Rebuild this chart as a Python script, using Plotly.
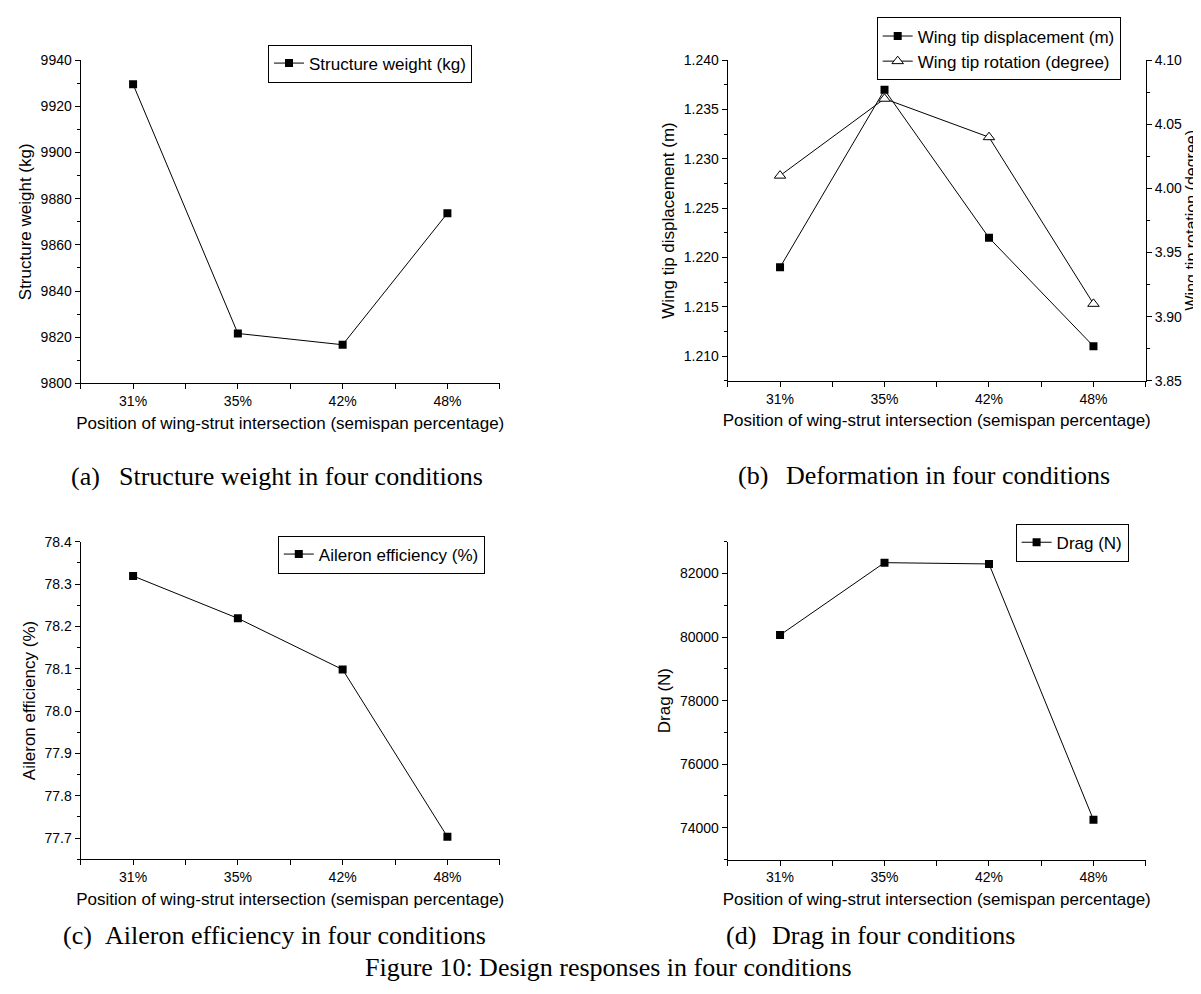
import plotly.graph_objects as go

# ---------------- data ----------------
categories = ["31%", "35%", "42%", "48%"]
structure_weight = [9929.6, 9821.6, 9816.7, 9873.7]          # kg
tip_displacement = [1.219, 1.237, 1.222, 1.211]              # m
tip_rotation = [4.01, 4.07, 4.04, 3.91]                      # degree
aileron_eff = [78.319, 78.219, 78.098, 77.703]               # %
drag = [80062, 82340, 82300, 74248]                          # N

x_title = "Position of wing-strut intersection (semispan percentage)"
captions = ["(a)", "(b)", "(c)", "(d)"]
caption_texts = ["Structure weight in four conditions",
                 "Deformation in four conditions",
                 "Aileron efficiency in four conditions",
                 "Drag in four conditions"]
fig_title = "Figure 10: Design responses in four conditions"

# ---------------- layout helpers ----------------
W, H = 1201, 994
pos = list(range(1, len(categories) + 1))
xtickvals = [0.5 + 0.5 * i for i in range(2 * len(categories) + 1)]
xticktext = [categories[int(v) - 1] if float(v).is_integer() else "" for v in xtickvals]

SANS = "Liberation Sans, Arial, sans-serif"
SERIF = "Liberation Serif, Times New Roman, serif"


def px_x(a, b):
    return [a / W, b / W]


def px_y(top, bottom):
    return [1 - bottom / H, 1 - top / H]


axis_common = dict(showline=True, linecolor="black", linewidth=1.3, ticks="outside",
                   ticklen=5, tickwidth=1.3, tickcolor="black", showgrid=False,
                   zeroline=False, mirror=False,
                   tickfont=dict(family=SANS, size=14, color="black"),
                   title_font=dict(family=SANS, size=17, color="black"))


def xaxis(domain, anchor):
    d = dict(axis_common)
    d.update(domain=domain, anchor=anchor, range=[0.5, 4.5], tickmode="array",
             tickvals=xtickvals, ticktext=xticktext,
             title=dict(text=x_title, standoff=8))
    return d


def yaxis(domain, anchor, rng, tick0, dtick, minor, title, fmt=None, side="left", overlaying=None):
    d = dict(axis_common)
    d.update(domain=domain, anchor=anchor, range=rng, tick0=tick0, dtick=dtick,
             side=side, title=dict(text=title, standoff=4),
             minor=dict(tick0=tick0, dtick=minor, ticks="outside", ticklen=3,
                        tickwidth=1.3, tickcolor="black", showgrid=False))
    if fmt:
        d["tickformat"] = fmt
    if overlaying:
        d["overlaying"] = overlaying
    return d


fig = go.Figure()

sq = dict(symbol="square", size=8, color="black")
tri = dict(symbol="triangle-up", size=10, color="white", line=dict(color="black", width=1))
ln = dict(color="black", width=1)

fig.add_trace(go.Scatter(x=pos, y=structure_weight, mode="lines+markers", name="Structure weight (kg)",
                         marker=sq, line=ln, xaxis="x", yaxis="y", legend="legend"))
fig.add_trace(go.Scatter(x=pos, y=tip_displacement, mode="lines+markers", name="Wing tip displacement (m)",
                         marker=sq, line=ln, xaxis="x2", yaxis="y2", legend="legend2"))
fig.add_trace(go.Scatter(x=pos, y=tip_rotation, mode="lines+markers", name="Wing tip rotation (degree)",
                         marker=tri, line=ln, xaxis="x2", yaxis="y5", legend="legend2"))
fig.add_trace(go.Scatter(x=pos, y=aileron_eff, mode="lines+markers", name="Aileron efficiency (%)",
                         marker=sq, line=ln, xaxis="x3", yaxis="y3", legend="legend3"))
fig.add_trace(go.Scatter(x=pos, y=drag, mode="lines+markers", name="Drag (N)",
                         marker=sq, line=ln, xaxis="x4", yaxis="y4", legend="legend4"))

xa = px_x(72.7, 491.8)
xb = px_x(719.8, 1137.7)
ya = px_y(45, 373.3)
yb = px_y(45, 370.7)
yc = px_y(534.3, 857.0)
yd = px_y(534.3, 857.3)


def legend(left, top):
    return dict(x=left / W, y=1 - top / H, xanchor="left", yanchor="top", xref="paper", yref="paper",
                bordercolor="black", borderwidth=1, bgcolor="white",
                font=dict(family=SANS, size=17, color="black"), itemwidth=30, tracegroupgap=0)


fig.update_layout(
    width=W, height=H, margin=dict(l=0, r=0, t=0, b=0),
    paper_bgcolor="white", plot_bgcolor="white", showlegend=True,
    xaxis=xaxis(xa, "y"),
    yaxis=yaxis(ya, "x", [9800, 9940], 9800, 20, 10, "Structure weight (kg)", fmt="d"),
    xaxis2=xaxis(xb, "y2"),
    yaxis2=yaxis(yb, "x2", [1.2075, 1.240], 1.21, 0.005, 0.0025, "Wing tip displacement (m)", fmt=".3f"),
    yaxis5=yaxis(yb, "x2", [3.85, 4.10], 3.85, 0.05, 0.025, "", fmt=".2f",
                 side="right", overlaying="y2"),
    xaxis3=xaxis(xa, "y3"),
    yaxis3=yaxis(yc, "x3", [77.65, 78.4], 77.7, 0.1, 0.05, "Aileron efficiency (%)", fmt=".1f"),
    xaxis4=xaxis(xb, "y4"),
    yaxis4=yaxis(yd, "x4", [73000, 83000], 74000, 2000, 1000, "Drag (N)", fmt="d"),
    legend=legend(260, 29),
    legend2=legend(868.7, 1.5),
    legend3=legend(269.8, 528),
    legend4=legend(1007.6, 516),
)

# right-hand axis title of panel (b)
fig.add_annotation(text="Wing tip rotation (degree)", x=1184 / W, y=1 - ((45 + 370.7) / 2) / H,
                   xref="paper", yref="paper", xanchor="center", yanchor="middle",
                   textangle=-90, showarrow=False, borderpad=0,
                   font=dict(family=SANS, size=16, color="black"))

cap_pos = [(61, 109, 468), (728, 776, 467), (53, 95, 935), (716, 762, 935)]
for (lab, txt, (xl, xt, yy)) in zip(captions, caption_texts, cap_pos):
    fig.add_annotation(text=lab, x=xl / W, y=1 - yy / H, xref="paper", yref="paper",
                       xanchor="left", yanchor="middle", showarrow=False,
                       font=dict(family=SERIF, size=26, color="black"))
    fig.add_annotation(text=txt, x=xt / W, y=1 - yy / H, xref="paper", yref="paper",
                       xanchor="left", yanchor="middle", showarrow=False,
                       font=dict(family=SERIF, size=26, color="black"))

fig.add_annotation(text=fig_title, x=0.5, y=1 - 967 / H, xref="paper", yref="paper",
                   xanchor="center", yanchor="middle", showarrow=False,
                   font=dict(family=SERIF, size=26, color="black"))

fig.write_html("out.html")
